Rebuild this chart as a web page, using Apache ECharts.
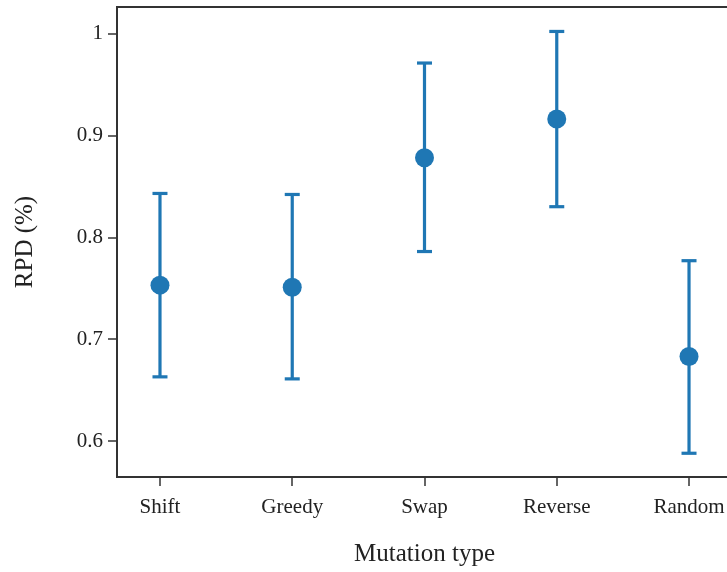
<!DOCTYPE html>
<html><head><meta charset="utf-8">
<script src="https://cdn.jsdelivr.net/npm/echarts@6/dist/echarts.min.js"></script>
<style>html,body{margin:0;padding:0;background:#fff}#c{width:727px;height:572px}</style>
</head><body><div id="c"></div>
<script>
const categories = ['Shift', 'Greedy', 'Swap', 'Reverse', 'Random'];
const means = [0.753, 0.751, 0.878, 0.916, 0.683];
const upper = [0.843, 0.842, 0.971, 1.002, 0.777];
const lower = [0.663, 0.661, 0.786, 0.830, 0.588];
const yTicks = [0.6, 0.7, 0.8, 0.9, 1.0];

const color = '#1f77b4';
const font = 'Liberation Serif';
const chart = echarts.init(document.getElementById('c'));
chart.setOption({
  animation: false,
  grid: {left: 117, top: 7, width: 615, height: 470, outerBoundsMode: 'none', containLabel: false, show: true, borderColor: '#333', borderWidth: 2, backgroundColor: 'transparent'},
  xAxis: {
    type: 'value', min: -0.325, max: 4.325,
    axisLine: {show: true, onZero: false, lineStyle: {color: '#333', width: 2}},
    axisTick: {show: true, customValues: [0,1,2,3,4], length: 9, lineStyle: {color: '#333', width: 1.5}},
    axisLabel: {customValues: [0,1,2,3,4], formatter: v => categories[Math.round(v)], fontFamily: font, fontSize: 21, color: '#222', margin: 20},
    splitLine: {show: false},
    name: 'Mutation type', nameLocation: 'middle', nameGap: 65,
    nameTextStyle: {fontFamily: font, fontSize: 25, color: '#222'}
  },
  yAxis: {
    type: 'value', min: 0.5647, max: 1.026,
    axisLine: {show: true, onZero: false, lineStyle: {color: '#333', width: 2}},
    axisTick: {show: true, customValues: yTicks, length: 9, lineStyle: {color: '#333', width: 1.5}},
    axisLabel: {customValues: yTicks, formatter: v => (Math.abs(v-1)<1e-9 ? '1' : v.toFixed(1)), fontFamily: font, fontSize: 21, color: '#222', margin: 14},
    splitLine: {show: false},
    name: 'RPD (%)', nameLocation: 'middle', nameGap: 79, nameRotate: 90,
    nameTextStyle: {fontFamily: font, fontSize: 25, color: '#222'}
  },
  series: [
    {
      type: 'custom',
      data: categories.map((c, i) => [i, lower[i], upper[i]]),
      renderItem: function (params, api) {
        const x = api.value(0);
        const lo = api.coord([x, api.value(1)]);
        const hi = api.coord([x, api.value(2)]);
        const hw = 7.5;
        const st = {stroke: color, lineWidth: 3.2};
        return {type: 'group', children: [
          {type: 'line', shape: {x1: lo[0], y1: lo[1], x2: hi[0], y2: hi[1]}, style: st},
          {type: 'line', shape: {x1: lo[0]-hw, y1: lo[1], x2: lo[0]+hw, y2: lo[1]}, style: st},
          {type: 'line', shape: {x1: hi[0]-hw, y1: hi[1], x2: hi[0]+hw, y2: hi[1]}, style: st}
        ]};
      },
      z: 2
    },
    {
      type: 'scatter',
      data: categories.map((c, i) => [i, means[i]]),
      symbol: 'circle', symbolSize: 19,
      itemStyle: {color: color, opacity: 1},
      z: 3
    }
  ]
});
</script></body></html>
